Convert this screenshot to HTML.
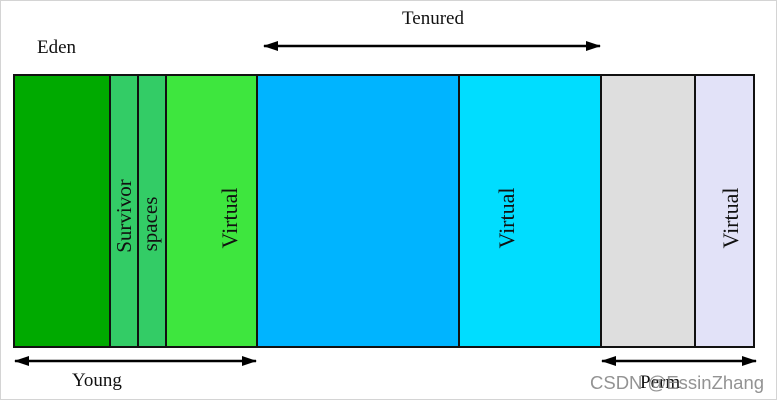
<!DOCTYPE html>
<html><head><meta charset="utf-8"><style>
html,body{margin:0;padding:0;background:#fff;width:778px;height:401px;overflow:hidden}
svg{display:block}
text{font-family:"Liberation Serif",serif;fill:#111}
</style></head><body>
<svg width="778" height="401" viewBox="0 0 778 401">
<defs>
<marker id="a" markerWidth="15" markerHeight="10" refX="14" refY="5" orient="auto-start-reverse" markerUnits="userSpaceOnUse"><path d="M0,0 L15,5 L0,10 Z" fill="#000"/></marker>
</defs>
<rect x="0.5" y="0.5" width="776" height="399" fill="none" stroke="#d4d4d4"/>
<g stroke="#111" stroke-width="2">
<rect x="14" y="75" width="96" height="272" fill="#00aa00"/>
<rect x="110" y="75" width="28" height="272" fill="#33cc66"/>
<rect x="138" y="75" width="28" height="272" fill="#33cc66"/>
<rect x="166" y="75" width="91" height="272" fill="#3ee63e"/>
<rect x="257" y="75" width="202" height="272" fill="#00b4ff"/>
<rect x="459" y="75" width="142" height="272" fill="#00ddff"/>
<rect x="601" y="75" width="94" height="272" fill="#dedede"/>
<rect x="695" y="75" width="59" height="272" fill="#e2e2f8"/>
</g>
<g stroke="#000" stroke-width="2.5">
<line x1="264" y1="46" x2="600" y2="46" marker-start="url(#a)" marker-end="url(#a)"/>
<line x1="15" y1="361" x2="256" y2="361" marker-start="url(#a)" marker-end="url(#a)"/>
<line x1="602" y1="361" x2="756" y2="361" marker-start="url(#a)" marker-end="url(#a)"/>
</g>
<text x="37" y="53" font-size="19">Eden</text>
<text x="402" y="24" font-size="19">Tenured</text>
<text x="72" y="386" font-size="19">Young</text>
<text x="640" y="388" font-size="19">Perm</text>
<text transform="translate(131,216) rotate(-90)" font-size="21" text-anchor="middle">Survivor</text>
<text transform="translate(157,224) rotate(-90)" font-size="21" text-anchor="middle">spaces</text>
<text transform="translate(237,218) rotate(-90)" font-size="22" text-anchor="middle">Virtual</text>
<text transform="translate(514,218) rotate(-90)" font-size="22" text-anchor="middle">Virtual</text>
<text transform="translate(738,218) rotate(-90)" font-size="22" text-anchor="middle">Virtual</text>
<text x="590" y="389" font-size="18.5" style="font-family:'Liberation Sans',sans-serif;fill:#888" opacity="0.9">CSDN @EssinZhang</text>
</svg>
</body></html>
